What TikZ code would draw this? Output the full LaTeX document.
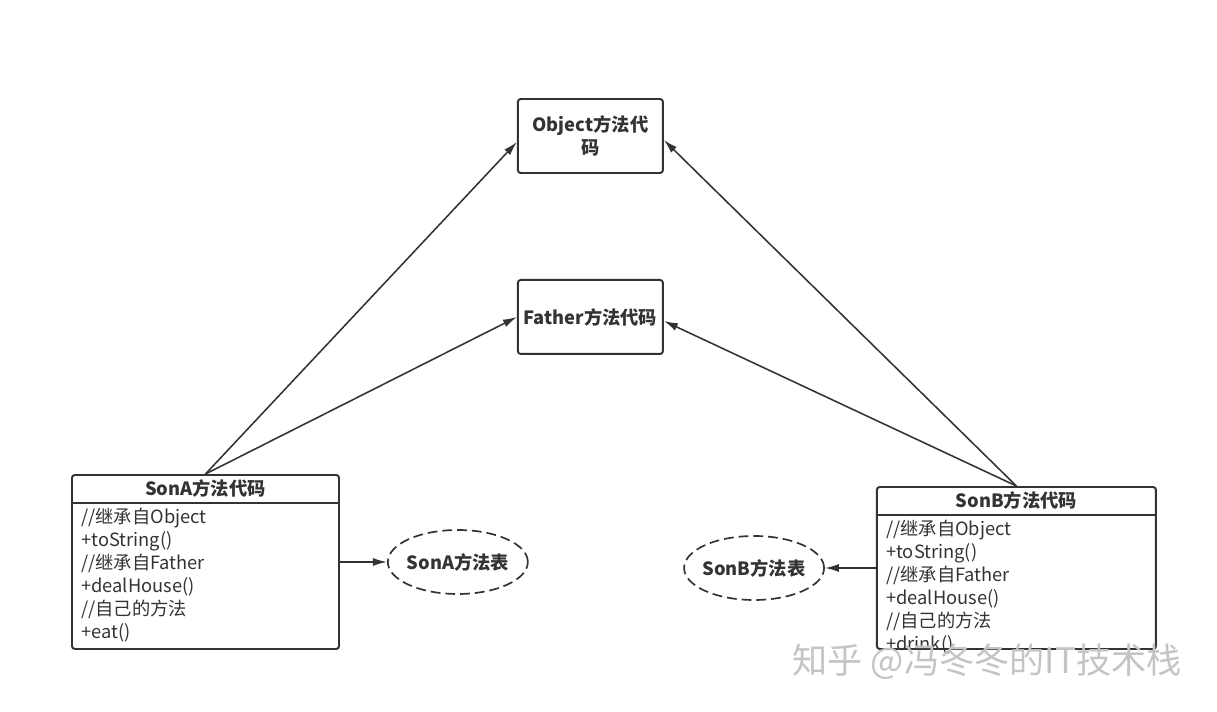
\documentclass[tikz,border=0pt]{standalone}
\usepackage{fontspec}
\setmainfont{Noto Sans CJK SC}
\usetikzlibrary{positioning,shapes.geometric,arrows.meta}
\definecolor{umlLine}{HTML}{333333}
\definecolor{umlText}{HTML}{333333}
\definecolor{umlMark}{HTML}{C4C4C4}
\tikzset{
    codeBox/.style={
        rectangle,
        draw=umlLine,
        line width=1.4pt,
        rounded corners=2pt,
        minimum width=3.625cm,
        minimum height=1.85cm,
        align=center,
        text=umlText,
        font=\fontsize{13}{16}\selectfont\bfseries
    },
    classFrame/.style={
        rectangle,
        draw=umlLine,
        line width=1.4pt,
        rounded corners=2pt,
        anchor=north,
        inner sep=0pt
    },
    classHead/.style={font=\fontsize{13}{16}\selectfont\bfseries, text=umlText, inner sep=0pt},
    classBody/.style={anchor=north west, align=left, inner sep=0pt, text=umlText, font=\fontsize{13}{16.3}\selectfont},
    % dashed method tables
    tableNode/.style={
        ellipse,
        draw=umlLine,
        line width=1.2pt,
        dash pattern=on 7pt off 3.5pt,
        inner xsep=-0.1cm,
        inner ysep=0pt,
        minimum width=3.5cm,
        minimum height=1.6cm,
        text=umlText,
        font=\fontsize{13}{16}\selectfont\bfseries
    },
    umlArrow/.style={-{Latex[length=0.35cm, width=0.2cm]}, line width=1.1pt, draw=umlLine}
}

\begin{document}
\begin{tikzpicture}
\useasboundingbox[fill=white] (0,0) rectangle (30.425,-17.775);

\node[codeBox] (objCode) at (14.76,-3.4) {Object方法代\\码};
\node[codeBox, below=2.625cm of objCode] (fatherCode) {Father方法代码};

% SonA class
\node[classFrame, minimum width=6.675cm, minimum height=4.35cm] (sonA) at (5.1375,-11.85) {};
\node[classHead] (sonAHead) at ([yshift=-0.3625cm]sonA.north) {SonA方法代码};
\draw[umlLine, line width=1.4pt] ([yshift=-0.725cm]sonA.north west) -- ([yshift=-0.725cm]sonA.north east);
\node[classBody] (sonABody) at ([xshift=0.25cm, yshift=-0.85cm]sonA.north west)
    {//继承自Object\\+toString()\\//继承自Father\\+dealHouse()\\//自己的方法\\+eat()};
\node[tableNode, right=1.175cm of sonA] (tableA) {SonA方法表};

% SonB class
\node[classFrame, minimum width=6.975cm, minimum height=4.05cm] (sonB) at (25.41,-12.15) {};
\node[classHead] (sonBHead) at ([yshift=-0.3625cm]sonB.north) {SonB方法代码};
\draw[umlLine, line width=1.4pt] ([yshift=-0.725cm]sonB.north west) -- ([yshift=-0.725cm]sonB.north east);
\node[classBody] (sonBBody) at ([xshift=0.25cm, yshift=-0.85cm]sonB.north west)
    {//继承自Object\\+toString()\\//继承自Father\\+dealHouse()\\//自己的方法\\+drink()};
\node[tableNode, left=1.275cm of sonB] (tableB) {SonB方法表};

\draw[umlArrow] (sonA.north) -- ([yshift=-0.15cm]objCode.west);
\draw[umlArrow] (sonA.north) -- (fatherCode.west);
\draw[umlArrow] (sonB.north) -- ([yshift=-0.1cm]objCode.east);
\draw[umlArrow] (sonB.north) -- ([yshift=-0.1cm]fatherCode.east);
\draw[umlArrow] (sonA.east) -- (tableA.west);
\draw[umlArrow] (sonB.west) -- (tableB.east);

\node[text=umlMark, font=\fontsize{25}{29}\selectfont] (mark) at (24.68,-16.55) {知乎 @冯冬冬的IT技术栈};
\end{tikzpicture}
\end{document}
